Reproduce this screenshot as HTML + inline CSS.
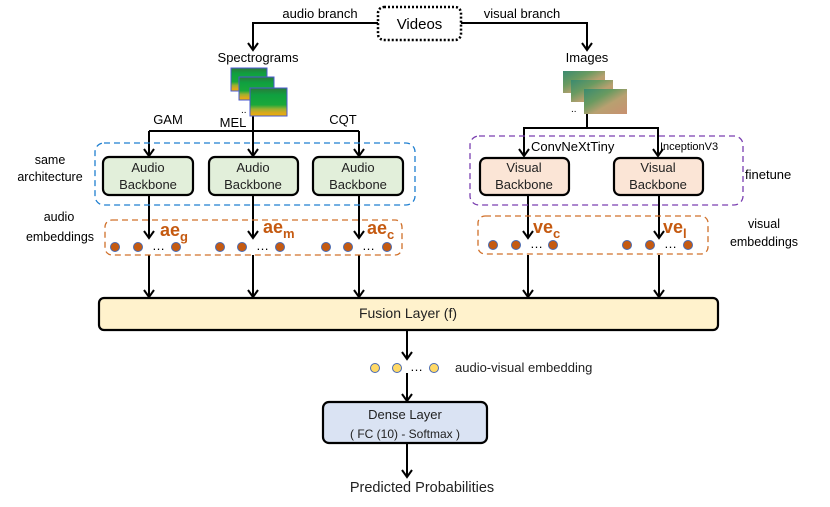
<!DOCTYPE html>
<html><head><meta charset="utf-8"><style>
html,body{margin:0;padding:0;background:#fff;}
svg{display:block;font-family:"Liberation Sans",sans-serif;}
</style></head><body>
<svg width="830" height="507" viewBox="0 0 830 507" xmlns="http://www.w3.org/2000/svg">
<defs>
<marker id="ah" markerWidth="10" markerHeight="12" refX="8" refY="6" orient="auto" markerUnits="userSpaceOnUse" viewBox="0 0 10 12">
<path d="M1,1 L8,6 L1,11" fill="none" stroke="#000" stroke-width="2"/>
</marker>
<linearGradient id="spec" x1="0" y1="0" x2="0" y2="1">
<stop offset="0" stop-color="#2a7a3a"/><stop offset="0.25" stop-color="#0fa040"/><stop offset="0.6" stop-color="#1aa83a"/><stop offset="0.75" stop-color="#9ab030"/><stop offset="0.88" stop-color="#d8a820"/><stop offset="1" stop-color="#f0b000"/>
</linearGradient>
<linearGradient id="img" x1="0" y1="0" x2="1" y2="1">
<stop offset="0" stop-color="#3a8a70"/><stop offset="0.35" stop-color="#6a9a60"/><stop offset="0.6" stop-color="#b8a070"/><stop offset="1" stop-color="#c89070"/>
</linearGradient>
</defs>
<g stroke="#000" stroke-width="2" fill="none">
<path d="M378,23 H253 V50" marker-end="url(#ah)"/>
<path d="M461,23 H587 V50" marker-end="url(#ah)"/>
<path d="M253,115 V156" marker-end="url(#ah)"/>
<path d="M149,131 H359"/>
<path d="M149,131 V156" marker-end="url(#ah)"/>
<path d="M359,131 V156" marker-end="url(#ah)"/>
<path d="M587,112 V128 H524 V156" marker-end="url(#ah)"/>
<path d="M587,128 H658 V156" marker-end="url(#ah)"/>
<path d="M149,195 V238" marker-end="url(#ah)"/>
<path d="M253,195 V238" marker-end="url(#ah)"/>
<path d="M359,195 V238" marker-end="url(#ah)"/>
<path d="M528,195 V238" marker-end="url(#ah)"/>
<path d="M659,195 V238" marker-end="url(#ah)"/>
<path d="M149,255 V297" marker-end="url(#ah)"/>
<path d="M253,255 V297" marker-end="url(#ah)"/>
<path d="M359,255 V297" marker-end="url(#ah)"/>
<path d="M528,255 V297" marker-end="url(#ah)"/>
<path d="M659,255 V297" marker-end="url(#ah)"/>
<path d="M407,330 V359" marker-end="url(#ah)"/>
<path d="M407,373 V401" marker-end="url(#ah)"/>
<path d="M407,443 V477" marker-end="url(#ah)"/>
</g>
<rect x="378" y="7" width="83" height="33" rx="6" fill="#fff" stroke="#000" stroke-width="2.5" stroke-dasharray="2,2"/>
<text x="419.5" y="29" font-size="15" text-anchor="middle">Videos</text>
<text x="320" y="18" font-size="13" text-anchor="middle">audio branch</text>
<text x="522" y="18" font-size="13" text-anchor="middle">visual branch</text>
<text x="258" y="62" font-size="13" text-anchor="middle">Spectrograms</text>
<text x="587" y="62" font-size="13" text-anchor="middle">Images</text>
<rect x="231" y="68" width="36" height="23" fill="url(#spec)" stroke="#4a5ad0" stroke-width="1"/>
<rect x="239" y="77" width="35" height="23" fill="url(#spec)" stroke="#4a5ad0" stroke-width="1"/>
<rect x="250" y="88" width="37" height="28" fill="url(#spec)" stroke="#4a5ad0" stroke-width="1"/>
<text x="241" y="113" font-size="10">..</text>
<rect x="563" y="71" width="42" height="22" fill="url(#img)"/>
<rect x="571" y="80" width="42" height="22" fill="url(#img)"/>
<rect x="584" y="89" width="43" height="25" fill="url(#img)"/>
<text x="571" y="112" font-size="10">..</text>
<text x="168" y="124" font-size="13" text-anchor="middle">GAM</text>
<text x="233" y="127" font-size="13" text-anchor="middle">MEL</text>
<text x="343" y="124" font-size="13" text-anchor="middle">CQT</text>
<rect x="95" y="143" width="320" height="62" rx="9" fill="none" stroke="#1f7fd0" stroke-width="1.3" stroke-dasharray="6,4"/>
<rect x="470" y="136" width="273" height="69" rx="9" fill="none" stroke="#7a3fb0" stroke-width="1.3" stroke-dasharray="6,4"/>
<g stroke="#000" stroke-width="2.2">
<rect x="103" y="157" width="90" height="38" rx="6" fill="#e2efda"/>
<rect x="209" y="157" width="89" height="38" rx="6" fill="#e2efda"/>
<rect x="313" y="157" width="90" height="38" rx="6" fill="#e2efda"/>
<rect x="480" y="158" width="89" height="37" rx="6" fill="#fbe5d6"/>
<rect x="614" y="158" width="89" height="37" rx="6" fill="#fbe5d6"/>
</g>
<g font-size="13" text-anchor="middle" fill="#222">
<text x="148" y="172">Audio</text><text x="148" y="189">Backbone</text>
<text x="253" y="172">Audio</text><text x="253" y="189">Backbone</text>
<text x="358" y="172">Audio</text><text x="358" y="189">Backbone</text>
<text x="524" y="172">Visual</text><text x="524" y="189">Backbone</text>
<text x="658" y="172">Visual</text><text x="658" y="189">Backbone</text>
</g>
<text x="531" y="151" font-size="13">ConvNeXtTiny</text>
<text x="660" y="150" font-size="11">InceptionV3</text>
<text x="745" y="179" font-size="13">finetune</text>
<g font-size="12.5" text-anchor="middle">
<text x="50" y="164">same</text><text x="50" y="181">architecture</text>
<text x="59" y="221">audio</text><text x="60" y="241">embeddings</text>
<text x="764" y="228">visual</text><text x="764" y="246">embeddings</text>
</g>
<rect x="105" y="220" width="297" height="35" rx="7" fill="none" stroke="#d0702a" stroke-width="1.3" stroke-dasharray="6,4"/>
<rect x="478" y="216" width="230" height="38" rx="7" fill="none" stroke="#d0702a" stroke-width="1.3" stroke-dasharray="6,4"/>
<g fill="#c55a11" stroke="#4a6ab0" stroke-width="1">
<circle cx="115" cy="247" r="4.5"/><circle cx="138" cy="247" r="4.5"/><circle cx="176" cy="247" r="4.5"/>
<circle cx="220" cy="247" r="4.5"/><circle cx="242" cy="247" r="4.5"/><circle cx="280" cy="247" r="4.5"/>
<circle cx="326" cy="247" r="4.5"/><circle cx="348" cy="247" r="4.5"/><circle cx="387" cy="247" r="4.5"/>
<circle cx="493" cy="245" r="4.5"/><circle cx="516" cy="245" r="4.5"/><circle cx="553" cy="245" r="4.5"/>
<circle cx="627" cy="245" r="4.5"/><circle cx="650" cy="245" r="4.5"/><circle cx="688" cy="245" r="4.5"/>
</g>
<g font-size="13">
<text x="152" y="250">…</text><text x="256" y="250">…</text><text x="362" y="250">…</text>
<text x="530" y="248">…</text><text x="664" y="248">…</text>
</g>
<g fill="#c55a11" font-weight="bold" font-size="18">
<text x="160" y="236">ae<tspan font-size="13" dy="5">g</tspan></text>
<text x="263" y="233">ae<tspan font-size="13" dy="5">m</tspan></text>
<text x="367" y="234">ae<tspan font-size="13" dy="5">c</tspan></text>
<text x="533" y="233">ve<tspan font-size="13" dy="5">c</tspan></text>
<text x="663" y="233">ve<tspan font-size="13" dy="5">l</tspan></text>
</g>
<rect x="99" y="298" width="619" height="32" rx="5" fill="#fff2cc" stroke="#000" stroke-width="2.2"/>
<text x="408" y="318" font-size="14" text-anchor="middle" fill="#222">Fusion Layer (f)</text>
<g fill="#ffd966" stroke="#4a6ab0" stroke-width="1">
<circle cx="375" cy="368" r="4.5"/><circle cx="397" cy="368" r="4.5"/><circle cx="434" cy="368" r="4.5"/>
</g>
<text x="410" y="371" font-size="13">…</text>
<text x="455" y="372" font-size="13" fill="#222">audio-visual embedding</text>
<rect x="323" y="402" width="164" height="41" rx="6" fill="#dae3f3" stroke="#000" stroke-width="2.2"/>
<text x="405" y="419" font-size="13" text-anchor="middle" fill="#222">Dense Layer</text>
<text x="405" y="438" font-size="12" text-anchor="middle" fill="#222">( FC (10) -  Softmax )</text>
<text x="422" y="492" font-size="14.5" text-anchor="middle" fill="#222">Predicted Probabilities</text>
</svg>
</body></html>
